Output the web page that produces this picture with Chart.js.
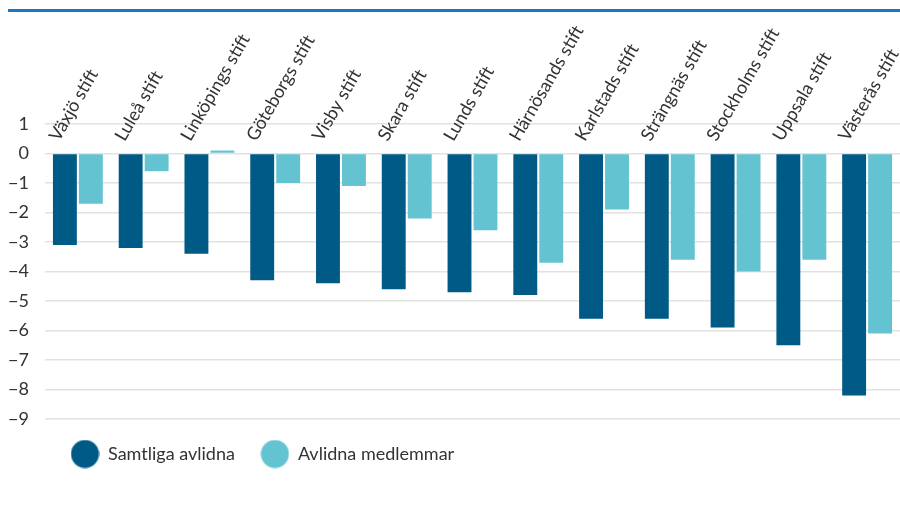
<!DOCTYPE html>
<html>
<head>
<meta charset="utf-8">
<script src="https://cdn.jsdelivr.net/npm/chart.js@4.4.1/dist/chart.umd.min.js"></script>
<style>
  html, body { margin: 0; padding: 0; background: #fff; }
  #wrap { position: relative; width: 900px; height: 507px; }
  #topline { position: absolute; left: 8px; right: 0; top: 9px; height: 3px; background: #1c77c3; }
</style>
</head>
<body>
<div id="wrap">
  <div id="topline"></div>
  <canvas id="chart" width="900" height="507"></canvas>
</div>
<script>
/* Data */
let categories = ['Växjö stift', 'Luleå stift', 'Linköpings stift', 'Göteborgs stift', 'Visby stift',
  'Skara stift', 'Lunds stift', 'Härnösands stift', 'Karlstads stift', 'Strängnäs stift',
  'Stockholms stift', 'Uppsala stift', 'Västerås stift']
let samtligaAvlidna = [-3.1, -3.2, -3.4, -4.3, -4.4, -4.6, -4.7, -4.8, -5.6, -5.6, -5.9, -6.5, -8.2]
let avlidnaMedlemmar = [-1.7, -0.6, 0.1, -1.0, -1.1, -2.2, -2.6, -3.7, -1.9, -3.6, -4.0, -3.6, -6.1]
let yTicks = [1, 0, -1, -2, -3, -4, -5, -6, -7, -8, -9]

let darkBlue = '#005a86'
let lightBlue = '#64c3d1'
let fontFamily = 'Lato, "Noto Sans", sans-serif'

/* round legend markers */
function dot(color) {
  let c = document.createElement('canvas')
  c.width = 29
  c.height = 29
  let g = c.getContext('2d')
  g.fillStyle = color
  g.beginPath()
  g.arc(14.5, 14.5, 14, 0, Math.PI * 2)
  g.fill()
  return c
}
let dots = [dot(darkBlue), dot(lightBlue)]

let ctx = document.querySelector('#chart').getContext('2d')

let chart = new Chart(ctx, {
  type: 'bar',
  data: {
    labels: categories,
    datasets: [
      { label: 'Samtliga avlidna', data: samtligaAvlidna, backgroundColor: darkBlue },
      { label: 'Avlidna medlemmar', data: avlidnaMedlemmar, backgroundColor: lightBlue }
    ]
  },
  options: {
    responsive: false,
    animation: false,
    datasets: { bar: { categoryPercentage: 0.79, barPercentage: 0.92 } },
    layout: { padding: { left: 0, right: 0, top: 0, bottom: 34 } },
    plugins: {
      tooltip: { enabled: false },
      legend: {
        position: 'bottom',
        align: 'start',
        fullSize: false,
        labels: {
          usePointStyle: true,
          pointStyleWidth: 28,
          padding: 26,
          color: '#333',
          font: { family: fontFamily, size: 18 },
          generateLabels: function(chart) {
            let items = Chart.defaults.plugins.legend.labels.generateLabels(chart)
            items.forEach(function(item, i) { item.pointStyle = dots[i] })
            return items
          }
        }
      }
    },
    scales: {
      x: {
        position: 'top',
        grid: { display: false },
        border: { display: false },
        afterFit: function(scale) {
          scale.height = 124
          scale.paddingLeft = 0
          scale.paddingRight = 0
        },
        ticks: {
          // mirror keeps the labels from being clipped where they dip into the plot
          mirror: true,
          minRotation: 60,
          maxRotation: 60,
          autoSkip: false,
          padding: 10,
          labelOffset: -24,
          color: '#333',
          font: { family: fontFamily, size: 18 }
        }
      },
      y: {
        min: -9,
        max: 1,
        afterFit: function(scale) { scale.width = 45 },
        afterBuildTicks: function(scale) {
          scale.ticks = yTicks.map(function(v) { return { value: v } })
        },
        grid: { color: '#e2e2e2', lineWidth: 1.5, drawTicks: false },
        border: { display: false },
        ticks: {
          padding: 16,
          color: '#333',
          font: { family: fontFamily, size: 18 },
          callback: function(v) { return String(v).replace('-', '\u2212') }
        }
      }
    }
  }
})
</script>
</body>
</html>
